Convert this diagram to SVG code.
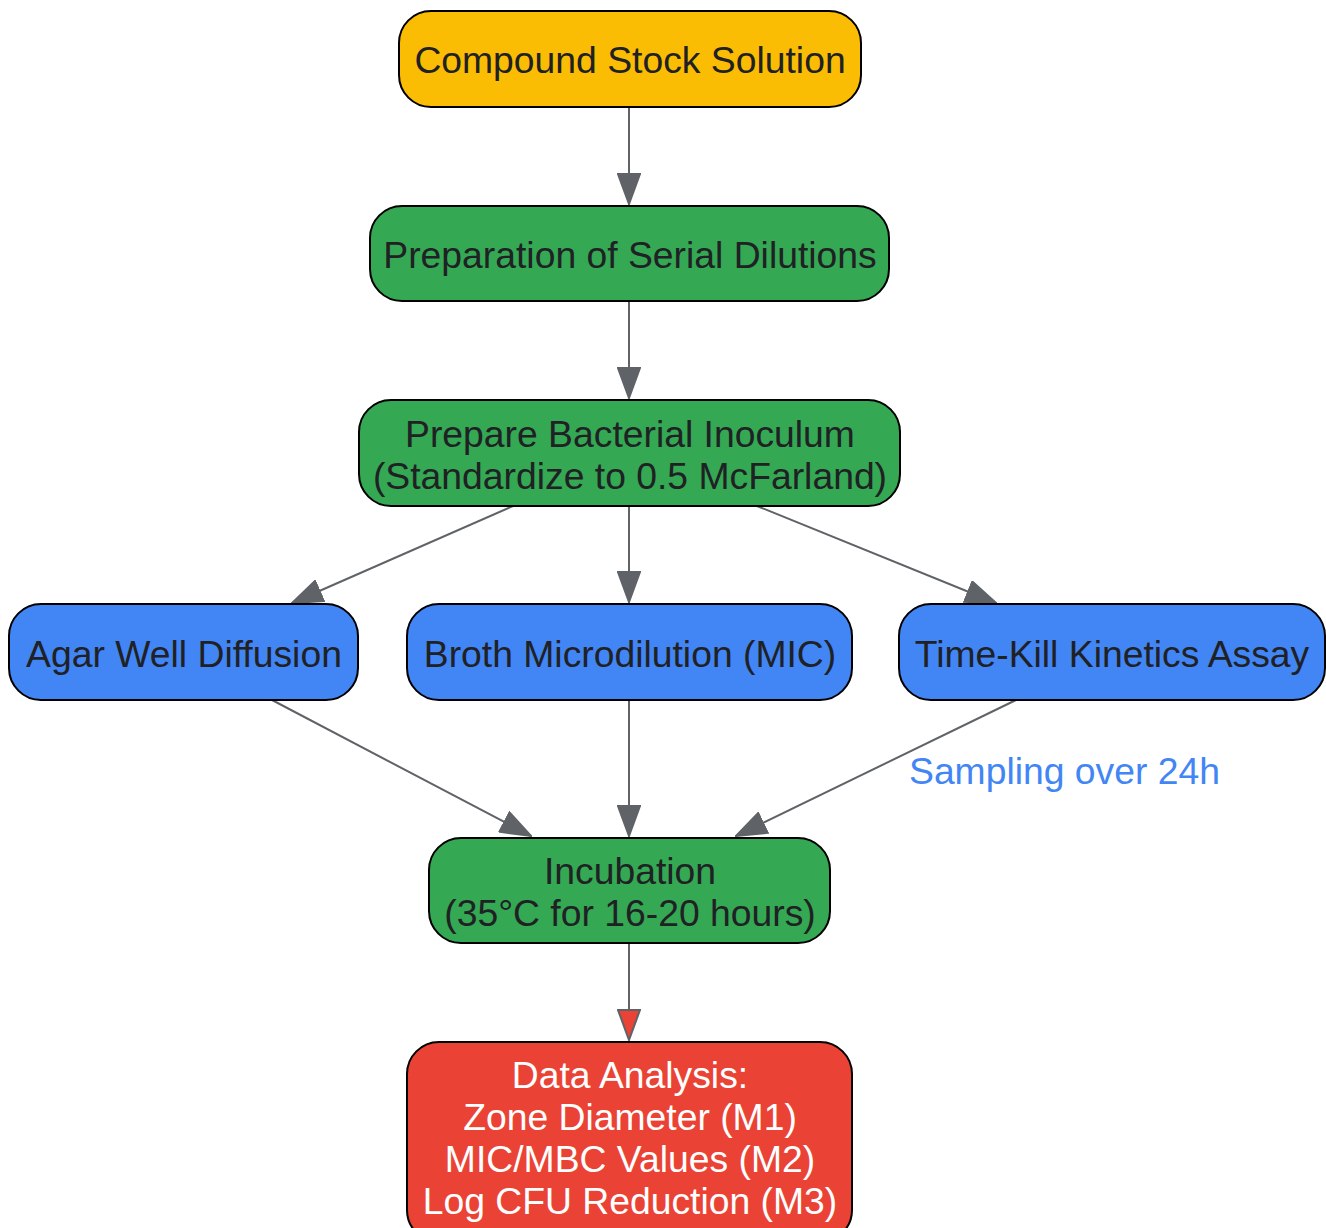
<svg xmlns="http://www.w3.org/2000/svg" width="1326" height="1228" viewBox="0 0 1326 1228">
<style>
.n{stroke:#000;stroke-width:2}
.t{font-family:"Liberation Sans",Arial,sans-serif;font-size:37.3px;fill:#202124;text-anchor:middle}
.w{fill:#fff}
.e{fill:none;stroke:#5f6368;stroke-width:2}
.lbl{font-family:"Liberation Sans",Arial,sans-serif;font-size:37.3px;fill:#4285F4}
</style>
<defs>
<marker id="ah" markerUnits="userSpaceOnUse" markerWidth="32" markerHeight="24" refX="30" refY="11" orient="auto" viewBox="-1 -1 32 24">
<path d="M0,0 L30,11 L0,22 Z" fill="#5f6368" stroke="#5f6368" stroke-width="2"/>
</marker>
<marker id="ahr" markerUnits="userSpaceOnUse" markerWidth="32" markerHeight="24" refX="30" refY="11" orient="auto" viewBox="-1 -1 32 24">
<path d="M0,0 L30,11 L0,22 Z" fill="#EA4335" stroke="#5f6368" stroke-width="2"/>
</marker>
</defs>
<rect width="1326" height="1228" fill="#fff"/>
<g id="edges">
<path class="e" d="M629,107 L629,204" marker-end="url(#ah)"/>
<path class="e" d="M629,301 L629,398" marker-end="url(#ah)"/>
<path class="e" d="M513,506 L292,603" marker-end="url(#ah)"/>
<path class="e" d="M629,506 L629,602" marker-end="url(#ah)"/>
<path class="e" d="M757,506 L996,603" marker-end="url(#ah)"/>
<path class="e" d="M272,700 L531,836" marker-end="url(#ah)"/>
<path class="e" d="M629,700 L629,836" marker-end="url(#ah)"/>
<path class="e" d="M1016,700 L736,836" marker-end="url(#ah)"/>
<text class="lbl" x="909" y="784">Sampling over 24h</text>
<path class="e" d="M629,943 L629,1040" marker-end="url(#ahr)"/>
</g>
<g id="n1">
<rect class="n" x="399" y="11" width="462" height="96" rx="32" fill="#FBBC04"/>
<text class="t" x="630" y="73">Compound Stock Solution</text>
</g>
<g id="n2">
<rect class="n" x="370" y="206" width="519" height="95" rx="32" fill="#34A853"/>
<text class="t" x="630" y="268">Preparation of Serial Dilutions</text>
</g>
<g id="n3">
<rect class="n" x="359" y="400" width="541" height="106" rx="32" fill="#34A853"/>
<text class="t" x="630" y="447">Prepare Bacterial Inoculum</text>
<text class="t" x="630" y="489">(Standardize to 0.5 McFarland)</text>
</g>
<g id="n4">
<rect class="n" x="9" y="604" width="349" height="96" rx="32" fill="#4285F4"/>
<text class="t" x="184" y="667">Agar Well Diffusion</text>
</g>
<g id="n5">
<rect class="n" x="407" y="604" width="445" height="96" rx="32" fill="#4285F4"/>
<text class="t" x="630" y="667">Broth Microdilution (MIC)</text>
</g>
<g id="n6">
<rect class="n" x="899" y="604" width="426" height="96" rx="32" fill="#4285F4"/>
<text class="t" x="1112" y="667">Time-Kill Kinetics Assay</text>
</g>
<g id="n7">
<rect class="n" x="429" y="838" width="401" height="105" rx="32" fill="#34A853"/>
<text class="t" x="630" y="884">Incubation</text>
<text class="t" x="630" y="926">(35°C for 16-20 hours)</text>
</g>
<g id="n8">
<rect class="n" x="407" y="1042" width="445" height="200" rx="32" fill="#EA4335"/>
<text class="t w" x="630" y="1088">Data Analysis:</text>
<text class="t w" x="630" y="1130">Zone Diameter (M1)</text>
<text class="t w" x="630" y="1172">MIC/MBC Values (M2)</text>
<text class="t w" x="630" y="1214">Log CFU Reduction (M3)</text>
</g>
</svg>
